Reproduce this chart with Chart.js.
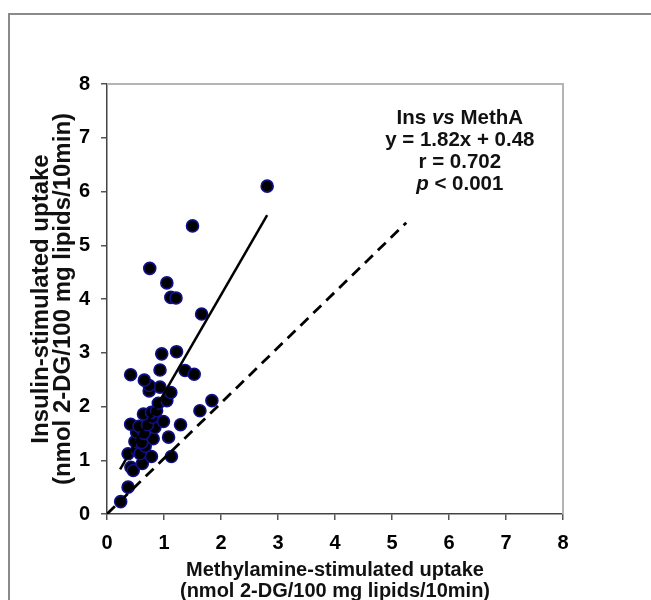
<!DOCTYPE html>
<html>
<head>
<meta charset="utf-8">
<script src="https://cdn.jsdelivr.net/npm/chart.js@4.4.1/dist/chart.umd.min.js"></script>
<style>
    html, body { margin: 0; padding: 0; background: #fff; }
    #wrap { position: relative; width: 651px; height: 600px; overflow: hidden; }
    #frame { position: absolute; left: 8px; top: 13px; width: 700px; height: 700px;
             border-left: 2px solid #8a8a8a; border-top: 2px solid #8a8a8a; }
    #chart { position: absolute; left: 0; top: 0; }
</style>
</head>
<body>
<div id="wrap">
    <div id="frame"></div>
    <canvas id="chart" width="651" height="600"></canvas>
</div>
<script>
// Vrijednosti očitane sa slike
const xValues = [0.24, 0.37, 0.42, 0.46, 0.62, 0.37, 0.53, 0.58, 0.78, 1.13,
                 0.49, 0.67, 0.61, 0.81, 1.08, 0.52, 0.65, 0.84, 0.415, 0.56,
                 0.71, 0.80, 0.99, 1.29, 0.64, 0.78, 0.87, 0.90, 1.05, 1.63,
                 1.84, 0.93, 1.12, 0.74, 0.74, 0.655, 0.415, 0.93, 1.37, 1.53,
                 0.96, 1.22, 1.66, 1.12, 1.21, 1.05, 0.75, 1.50, 2.81];
const yValues = [0.23, 0.50, 0.87, 0.81, 0.94, 1.12, 1.18, 1.12, 1.07, 1.07,
                 1.35, 1.26, 1.33, 1.40, 1.43, 1.52, 1.50, 1.61, 1.67, 1.63,
                 1.66, 1.80, 1.72, 1.66, 1.86, 1.89, 1.92, 2.06, 2.11, 1.92,
                 2.11, 2.36, 2.26, 2.29, 2.39, 2.49, 2.59, 2.68, 2.67, 2.60,
                 2.98, 3.02, 3.72, 4.03, 4.02, 4.30, 4.57, 5.36, 6.10];

// Regresijski pravac (krajnje točke) i isprekidana linija
const fitX = [0.23, 2.81];
const fitY = [0.83, 5.56];
const refX = [0, 5.25];
const refY = [0, 5.42];

const tickValues = [0, 1, 2, 3, 4, 5, 6, 7, 8];
const xTitle = ['Methylamine-stimulated uptake', '(nmol 2-DG/100 mg lipids/10min)'];
const yTitle = ['Insulin-stimulated uptake', '(nmol 2-DG/100 mg lipids/10min)'];

// Tekst bilješke: [dio, kurziv]
const noteLines = [
    [['Ins ', false], ['vs', true], [' MethA', false]],
    [['y = 1.82x + 0.48', false]],
    [['r = 0.702', false]],
    [['p', true], [' < 0.001', false]]
];
const notePos = { x: 6.19, y: 7.37 };

const FONT = "'Liberation Sans', Arial, sans-serif";

function toPoints(xs, ys) {
    return xs.map((x, i) => ({ x: x, y: ys[i] }));
}

// Gornji i desni rub područja grafa
const frameLines = {
    id: 'frameLines',
    beforeDatasetsDraw(chart) {
        const { ctx, chartArea: a } = chart;
        ctx.save();
        ctx.strokeStyle = '#b4b4b4';
        ctx.lineWidth = 2;
        ctx.beginPath();
        ctx.moveTo(a.left, a.top);
        ctx.lineTo(a.right, a.top);
        ctx.lineTo(a.right, a.bottom);
        ctx.stroke();
        ctx.restore();
    }
};

// Bilješka s jednadžbom
const noteText = {
    id: 'noteText',
    afterDraw(chart) {
        const ctx = chart.ctx;
        const cx = chart.scales.x.getPixelForValue(notePos.x);
        let cy = chart.scales.y.getPixelForValue(notePos.y);
        ctx.save();
        ctx.fillStyle = '#111';
        ctx.textBaseline = 'middle';
        ctx.textAlign = 'left';
        noteLines.forEach(line => {
            let total = 0;
            line.forEach(part => {
                ctx.font = (part[1] ? 'italic ' : '') + 'bold 20.5px ' + FONT;
                total += ctx.measureText(part[0]).width;
            });
            let x = cx - total / 2;
            line.forEach(part => {
                ctx.font = (part[1] ? 'italic ' : '') + 'bold 20.5px ' + FONT;
                ctx.fillText(part[0], x, cy);
                x += ctx.measureText(part[0]).width;
            });
            cy += 22;
        });
        ctx.restore();
    }
};

const axisCommon = {
    type: 'linear',
    min: 0,
    max: 8,
    grid: { drawOnChartArea: false, drawTicks: true, tickLength: 6, color: '#555', lineWidth: 1.5 },
    border: { color: '#444', width: 1.5 }
};

new Chart(document.getElementById('chart'), {
    type: 'scatter',
    data: {
        datasets: [
            {
                data: toPoints(fitX, fitY),
                showLine: true,
                borderColor: '#000',
                borderWidth: 2.5,
                pointRadius: 0
            },
            {
                data: toPoints(refX, refY),
                showLine: true,
                borderColor: '#000',
                borderWidth: 2.8,
                borderDash: [11, 7],
                pointRadius: 0
            },
            {
                data: toPoints(xValues, yValues),
                backgroundColor: '#000',
                borderColor: '#10108c',
                borderWidth: 1.6,
                pointRadius: 6
            }
        ]
    },
    options: {
        responsive: false,
        animation: false,
        layout: { padding: { top: 84, right: 88, left: 0, bottom: 0 } },
        plugins: { legend: { display: false }, tooltip: { enabled: false } },
        scales: {
            x: Object.assign({}, axisCommon, {
                afterBuildTicks: s => { s.ticks = tickValues.map(v => ({ value: v })); },
                afterFit: s => { s.height = 86; },
                ticks: { color: '#000', padding: 11, font: { family: FONT, size: 20, weight: 'bold' } },
                title: {
                    display: true, text: xTitle, color: '#111',
                    font: { family: FONT, size: 20, weight: 'bold', lineHeight: 1.05 },
                    padding: { top: 0, bottom: -2 }
                }
            }),
            y: Object.assign({}, axisCommon, {
                afterBuildTicks: s => { s.ticks = tickValues.map(v => ({ value: v })); },
                afterFit: s => { s.width = 107; },
                ticks: { color: '#000', padding: 11, font: { family: FONT, size: 20, weight: 'bold' } },
                title: {
                    display: true, text: yTitle, color: '#111',
                    font: { family: FONT, size: 24, weight: 'bold', lineHeight: 0.917 },
                    padding: { top: 30, bottom: 0 }
                }
            })
        }
    },
    plugins: [frameLines, noteText]
});
</script>
</body>
</html>
